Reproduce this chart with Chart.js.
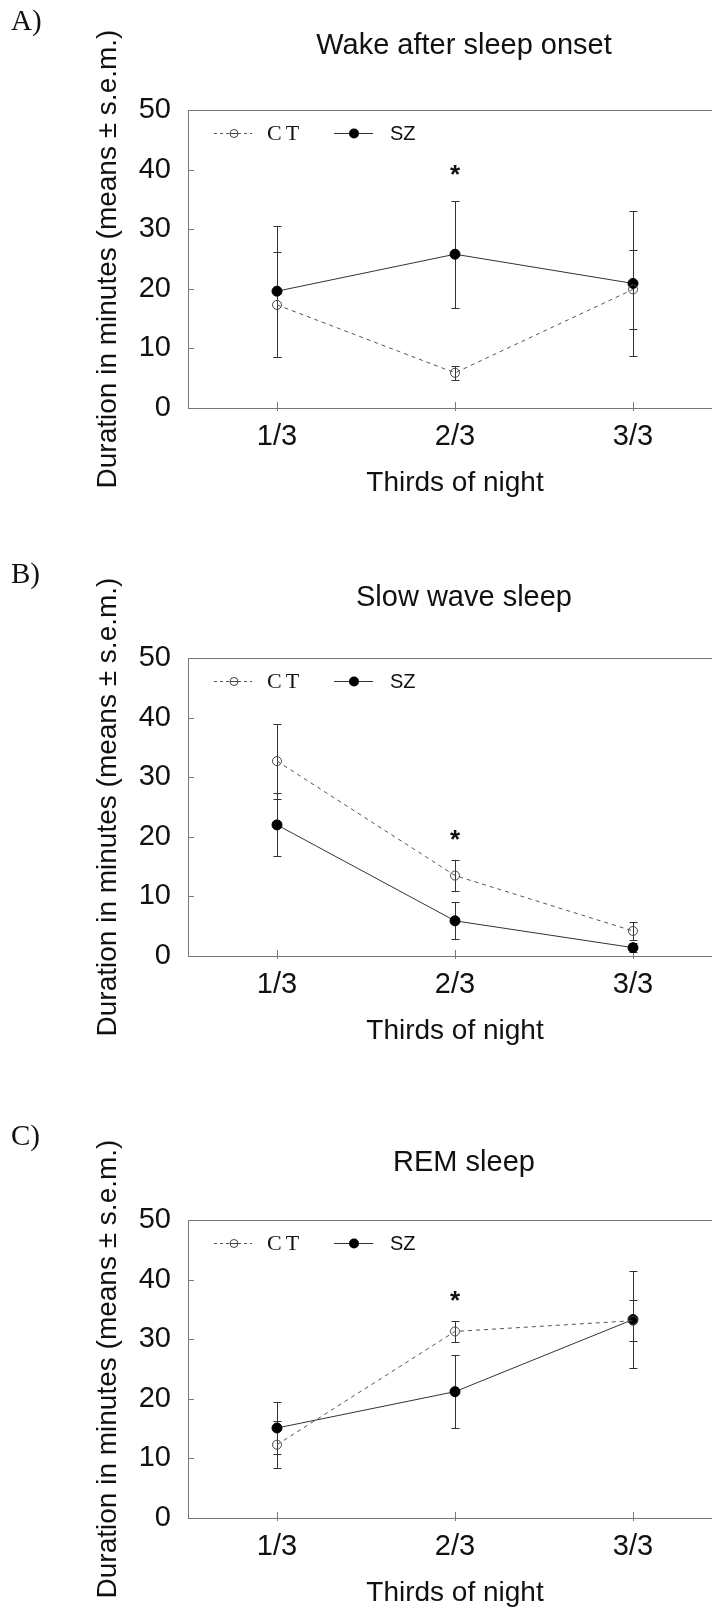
<!DOCTYPE html>
<html>
<head>
<meta charset="utf-8">
<script src="https://cdn.jsdelivr.net/npm/chart.js@4.4.0/dist/chart.umd.min.js"></script>
<style>
  html, body { margin: 0; padding: 0; background: #fff; overflow: hidden; }
  #page { position: relative; width: 712px; height: 1611px; overflow: hidden; background: #fff; }
  .panel { position: absolute; left: 0; }
</style>
</head>
<body>
<div id="page">
  <canvas id="panelA" class="panel" width="740" height="510" style="top:0px"></canvas>
  <canvas id="panelB" class="panel" width="740" height="510" style="top:548px"></canvas>
  <canvas id="panelC" class="panel" width="740" height="510" style="top:1110px"></canvas>
</div>
<script>
const thirds = ['1/3', '2/3', '3/3'];
const durationTicks = [0, 10, 20, 30, 40, 50];

// A) wake after sleep onset
const wakeCT = [17.3, 5.9, 19.9];
const wakeCTsem = [8.8, 1.2, 6.6];
const wakeSZ = [19.6, 25.8, 20.9];
const wakeSZsem = [11.0, 9.0, 12.2];
const wakeStar = [null, 40.2, null];

// B) slow wave sleep
const swsCT = [32.7, 13.5, 4.2];
const swsCTsem = [6.3, 2.6, 1.5];
const swsSZ = [22.0, 5.9, 1.4];
const swsSZsem = [5.3, 3.1, 0.8];
const swsStar = [null, 20.5, null];

// C) REM sleep
const remCT = [12.3, 31.3, 33.1];
const remCTsem = [3.9, 1.7, 3.4];
const remSZ = [15.1, 21.2, 33.3];
const remSZsem = [4.3, 6.1, 8.2];
const remStar = [null, 37.5, null];

Chart.defaults.font.family = '"Liberation Sans", Arial, sans-serif';
Chart.defaults.color = '#111';

function decoPlugin(letter, title, ctSem, szSem, stars, letterY, titleY) {
  return {
    id: 'deco',
    beforeDatasetsDraw(chart) {
      const ctx = chart.ctx, a = chart.chartArea, x = chart.scales.x, y = chart.scales.y;
      ctx.save();
      // top frame line and small inward ticks
      ctx.strokeStyle = '#777';
      ctx.lineWidth = 1;
      ctx.beginPath();
      ctx.moveTo(a.left, Math.round(a.top) + 0.5);
      ctx.lineTo(a.right, Math.round(a.top) + 0.5);
      durationTicks.forEach(v => {
        const py = Math.round(y.getPixelForValue(v)) + 0.5;
        ctx.moveTo(a.left, py);
        ctx.lineTo(a.left + 6, py);
      });
      thirds.forEach((c, i) => {
        const px = Math.round(x.getPixelForValue(i)) + 0.5;
        ctx.moveTo(px, a.bottom - 6);
        ctx.lineTo(px, a.bottom + 3);
      });
      ctx.stroke();

      // error bars (mean +- sem)
      ctx.strokeStyle = '#333';
      [[0, ctSem], [1, szSem]].forEach(([di, sem]) => {
        chart.data.datasets[di].data.forEach((v, i) => {
          const px = Math.round(x.getPixelForValue(i)) + 0.5;
          const hi = Math.round(y.getPixelForValue(v + sem[i])) + 0.5;
          const lo = Math.round(y.getPixelForValue(Math.max(0, v - sem[i]))) + 0.5;
          ctx.beginPath();
          ctx.moveTo(px, hi); ctx.lineTo(px, lo);
          ctx.moveTo(px - 4, hi); ctx.lineTo(px + 4, hi);
          ctx.moveTo(px - 4, lo); ctx.lineTo(px + 4, lo);
          ctx.stroke();
        });
      });
      ctx.restore();
    },
    afterDraw(chart) {
      const ctx = chart.ctx, a = chart.chartArea, x = chart.scales.x, y = chart.scales.y;
      ctx.save();
      ctx.fillStyle = '#111';
      ctx.textBaseline = 'middle';

      // panel letter
      ctx.textAlign = 'left';
      ctx.font = '29px "Liberation Serif", "Times New Roman", serif';
      ctx.fillText(letter, 11, letterY);

      // panel title
      ctx.textAlign = 'center';
      ctx.font = '29px "Liberation Sans", Arial, sans-serif';
      ctx.fillText(title, (a.left + a.right) / 2 + 9, titleY);

      // significance stars
      ctx.font = 'bold 26px "Liberation Sans", Arial, sans-serif';
      stars.forEach((s, i) => {
        if (s === null) return;
        ctx.fillText('*', x.getPixelForValue(i), y.getPixelForValue(s) + 7);
      });

      // legend
      const lx = a.left, ly = Math.round(a.top + 23) + 0.5;
      ctx.lineWidth = 1;
      ctx.strokeStyle = '#555';
      ctx.setLineDash([3, 3]);
      ctx.beginPath();
      ctx.moveTo(lx + 26, ly); ctx.lineTo(lx + 64, ly);
      ctx.stroke();
      ctx.setLineDash([]);
      ctx.beginPath();
      ctx.fillStyle = '#fff';
      ctx.arc(lx + 46, ly, 4, 0, Math.PI * 2);
      ctx.fill();
      ctx.strokeStyle = '#444';
      ctx.stroke();
      ctx.beginPath();
      ctx.moveTo(lx + 42, ly); ctx.lineTo(lx + 50, ly);
      ctx.stroke();

      ctx.fillStyle = '#111';
      ctx.textAlign = 'left';
      ctx.font = '22px "Liberation Serif", "Times New Roman", serif';
      ctx.letterSpacing = '4px';
      ctx.fillText('CT', lx + 79, ly + 1);
      ctx.letterSpacing = '0px';

      ctx.strokeStyle = '#333';
      ctx.beginPath();
      ctx.moveTo(lx + 146, ly); ctx.lineTo(lx + 185, ly);
      ctx.stroke();
      ctx.beginPath();
      ctx.fillStyle = '#000';
      ctx.arc(lx + 166, ly, 5, 0, Math.PI * 2);
      ctx.fill();
      ctx.fillStyle = '#111';
      ctx.font = '20px "Liberation Sans", Arial, sans-serif';
      ctx.fillText('SZ', lx + 202, ly + 1);
      ctx.restore();
    }
  };
}

function makePanel(id, ct, sz, ctSem, szSem, stars, letter, title, letterY, titleY) {
  return new Chart(document.getElementById(id), {
    type: 'line',
    data: {
      labels: thirds,
      datasets: [
        {
          label: 'CT', data: ct,
          borderColor: '#555', borderWidth: 1, borderDash: [4, 4],
          pointRadius: 4.5, pointBorderWidth: 1,
          pointBackgroundColor: 'rgba(0,0,0,0)', pointBorderColor: '#444',
          tension: 0, clip: false
        },
        {
          label: 'SZ', data: sz,
          borderColor: '#333', borderWidth: 1,
          pointRadius: 5, pointBorderWidth: 1,
          pointBackgroundColor: '#000', pointBorderColor: '#000',
          tension: 0, clip: false
        }
      ]
    },
    options: {
      responsive: false,
      animation: false,
      devicePixelRatio: 1,
      layout: { padding: { top: 110, left: 0, right: 18, bottom: 2 } },
      plugins: {
        legend: { display: false },
        tooltip: { enabled: false },
        title: { display: false }
      },
      scales: {
        x: {
          type: 'category',
          offset: true,
          grid: { display: true, drawOnChartArea: false, drawTicks: false },
          border: { display: true, color: '#777', width: 1 },
          ticks: { font: { size: 29 }, color: '#111', padding: 12, maxRotation: 0 },
          title: {
            display: true, text: 'Thirds of night',
            font: { size: 28 }, color: '#111',
            padding: { top: 0, bottom: 8 }
          },
          afterFit: s => { s.height = 100; }
        },
        y: {
          min: 0, max: 50,
          afterBuildTicks: s => { s.ticks = durationTicks.map(v => ({ value: v })); },
          grid: { display: true, drawOnChartArea: false, drawTicks: false },
          border: { display: true, color: '#777', width: 1 },
          ticks: { font: { size: 29 }, color: '#111', padding: 17 },
          title: {
            display: true, text: 'Duration in minutes (means \u00b1 s.e.m.)',
            font: { size: 28 }, color: '#111',
            padding: { top: 91, bottom: 0 }
          },
          afterFit: s => { s.width = 188; }
        }
      }
    },
    plugins: [decoPlugin(letter, title, ctSem, szSem, stars, letterY, titleY)]
  });
}

makePanel('panelA', wakeCT, wakeSZ, wakeCTsem, wakeSZsem, wakeStar, 'A)', 'Wake after sleep onset', 22, 46);
makePanel('panelB', swsCT, swsSZ, swsCTsem, swsSZsem, swsStar, 'B)', 'Slow wave sleep', 27, 50);
makePanel('panelC', remCT, remSZ, remCTsem, remSZsem, remStar, 'C)', 'REM sleep', 27, 53);
</script>
</body>
</html>
